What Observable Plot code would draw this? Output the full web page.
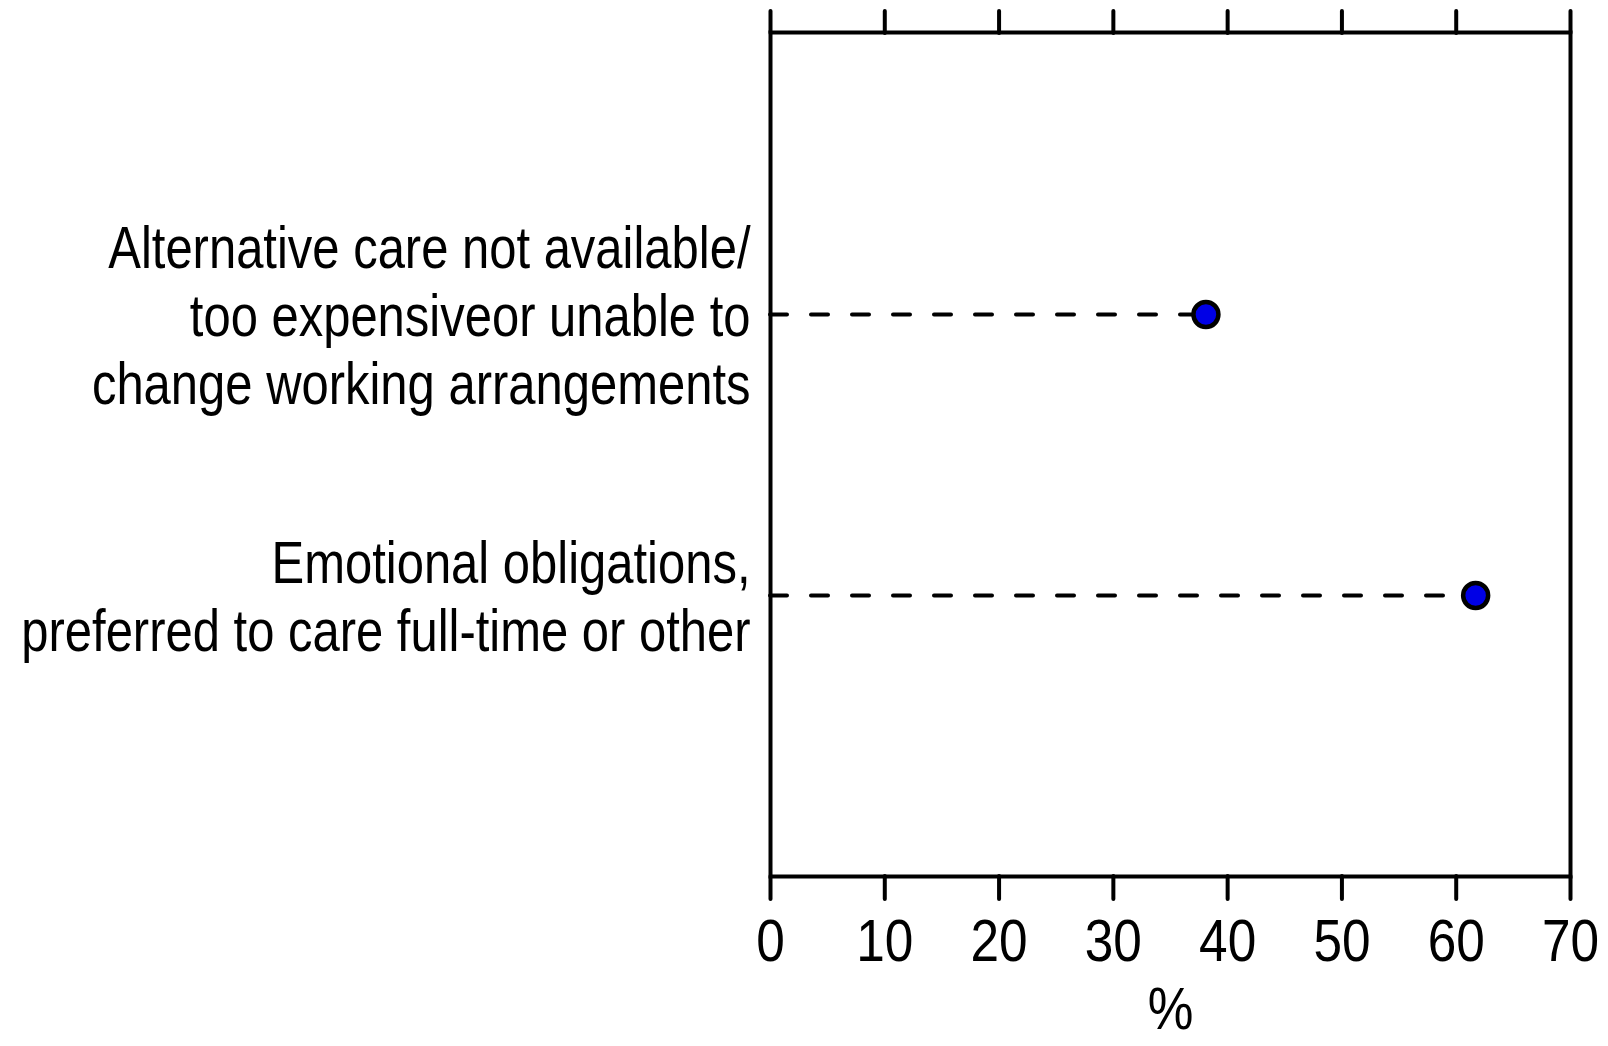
<!DOCTYPE html>
<html>
<head>
<meta charset="utf-8">
<script src="https://cdn.jsdelivr.net/npm/d3@7"></script>
<script src="https://cdn.jsdelivr.net/npm/@observablehq/plot@0.6"></script>
<style>
  html, body { margin: 0; padding: 0; background: white; }
</style>
</head>
<body>
<div id="chart"></div>
<script>
const categories = [
  "Alternative care not available/\ntoo expensiveor unable to\nchange working arrangements",
  "Emotional obligations,\npreferred to care full-time or other"
];
const values = [38.1, 61.7];
const xTicks = [0, 10, 20, 30, 40, 50, 60, 70];
const xLabel = "%";

const data = categories.map((c, i) => ({category: c, value: values[i]}));
const font = "'Liberation Sans Narrow', 'Arial Narrow', 'Liberation Sans', sans-serif";

const chart = Plot.plot({
  width: 1608,
  height: 1046,
  marginLeft: 770,
  marginRight: 38,
  marginTop: 32,
  marginBottom: 170,
  style: {fontFamily: font, background: "white", color: "black"},
  x: {domain: [0, 70]},
  y: {type: "point", domain: categories, padding: 1},
  marks: [
    Plot.ruleY(data, {y: "category", x1: 0, x2: "value", stroke: "black", strokeWidth: 4, strokeDasharray: "17,24", strokeLinecap: "round"}),
    Plot.frame({stroke: "black", strokeWidth: 4}),
    Plot.axisX({anchor: "top", ticks: xTicks, tickSize: 22, strokeWidth: 4, strokeLinecap: "round", tickFormat: () => "", label: null}),
    Plot.axisX({anchor: "bottom", ticks: xTicks, tickSize: 23, tickPadding: 20, strokeWidth: 4, strokeLinecap: "round", fontSize: 59, fill: "black", label: null, className: "xticks"}),
    Plot.text([xLabel], {frameAnchor: "bottom", dy: 152, fontSize: 59, fill: "black", className: "xlabel"}),
    Plot.axisY({tickSize: 0, tickPadding: 20, fontSize: 59, lineHeight: 1.15, fill: "black", label: null, className: "ylabels"}),
    Plot.dot(data, {x: "value", y: "category", r: 12.5, fill: "#0000e6", stroke: "black", strokeWidth: 4.5})
  ]
});
// horizontal condensing of the text to imitate a narrow typeface
function condense(selector, k) {
  chart.querySelectorAll(selector).forEach((t) => {
    const tr = t.getAttribute("transform") || "";
    t.setAttribute("transform", (tr + ` scale(${k},1)`).trim());
  });
}
condense(".ylabels text", 0.83);
condense(".xticks text", 0.87);
condense(".xlabel text", 0.87);
document.getElementById("chart").appendChild(chart);
</script>
</body>
</html>
